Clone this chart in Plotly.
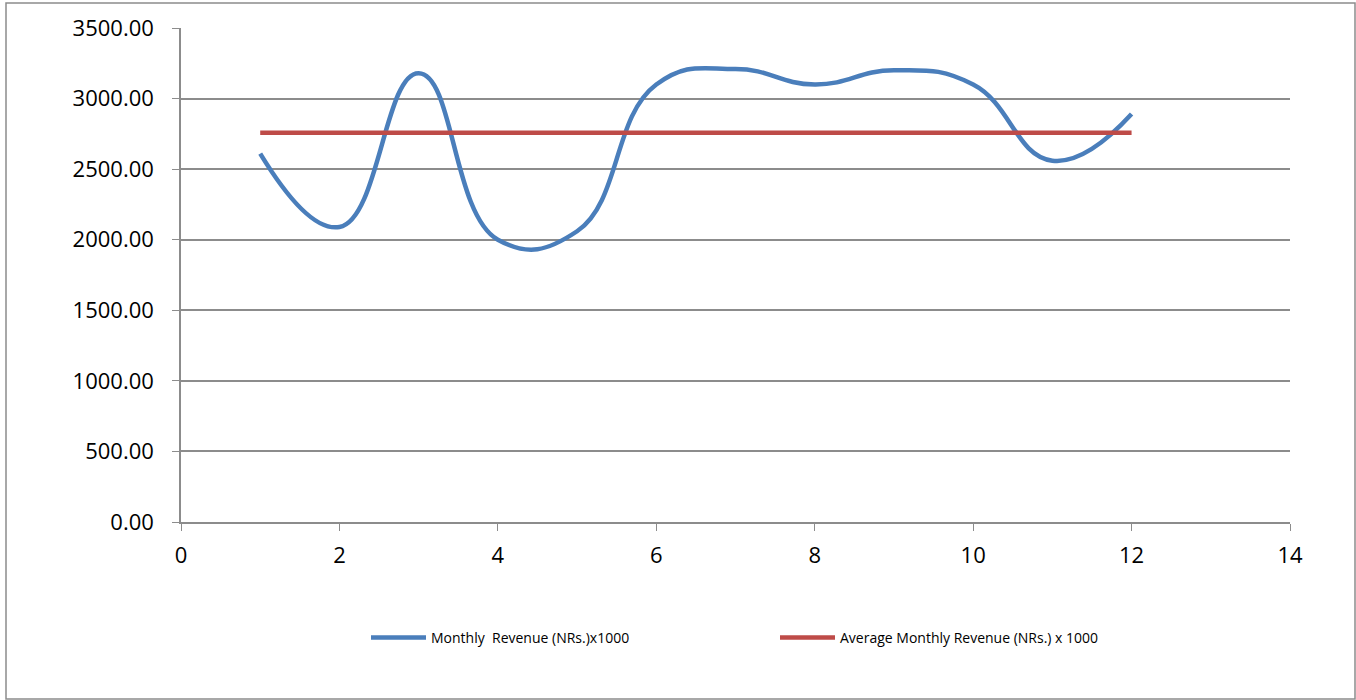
import plotly.graph_objects as go

# Monthly revenue data (NRs. x 1000)
months = [1, 2, 3, 4, 5, 6, 7, 8, 9, 10, 11, 12]
monthly_revenue = [2610, 2090, 3180, 2000, 2060, 3100, 3210, 3100, 3200, 3100, 2560, 2890]
average_value = sum(monthly_revenue) / len(monthly_revenue)
average_revenue = [average_value] * len(months)

y_ticks = [0, 500, 1000, 1500, 2000, 2500, 3000, 3500]
x_ticks = [0, 2, 4, 6, 8, 10, 12, 14]

W, H = 1356, 700
ML, MR, MT, MB = 181, 66, 28, 178
pw, ph = W - ML - MR, H - MT - MB

fig = go.Figure()
fig.add_trace(go.Scatter(
    x=months, y=monthly_revenue, mode="lines",
    name="Monthly  Revenue (NRs.)x1000",
    line=dict(color="#4A7EBB", width=4.5, shape="spline", smoothing=1.3),
))
fig.add_trace(go.Scatter(
    x=months, y=average_revenue, mode="lines",
    name="Average Monthly Revenue (NRs.) x 1000",
    line=dict(color="#BE4B48", width=4.5),
))

grid = "#8C8C8C"
fig.update_layout(
    width=W, height=H,
    margin=dict(l=ML, r=MR, t=MT, b=MB),
    paper_bgcolor="white", plot_bgcolor="white",
    font=dict(family="Open Sans, sans-serif", color="black"),
    xaxis=dict(
        range=[0, 14], tickvals=x_ticks, ticktext=[str(v) for v in x_ticks],
        showgrid=False, zeroline=False,
        showline=True, linecolor=grid, linewidth=1.5,
        ticks="outside", ticklen=7, tickcolor=grid, tickwidth=1,
        tickfont=dict(size=22), ticklabelstandoff=6,
    ),
    yaxis=dict(
        range=[0, 3500], tickvals=y_ticks, ticktext=[f"{v:.2f}" for v in y_ticks],
        showgrid=True, gridcolor=grid, gridwidth=1.5, zeroline=False,
        showline=True, linecolor=grid, linewidth=1.5,
        ticks="outside", ticklen=7, tickcolor=grid, tickwidth=1,
        tickfont=dict(size=22), ticklabelstandoff=14,
    ),
    legend=dict(
        orientation="h", x=(371 - ML - 5) / pw, xanchor="left",
        y=-(638 - MT - ph) / ph, yanchor="middle",
        font=dict(size=14, family="Open Sans, sans-serif"),
        itemwidth=55,
        entrywidth=339, entrywidthmode="pixels",
        bgcolor="rgba(0,0,0,0)",
    ),
    showlegend=True,
)

# Outer chart frame
fig.add_shape(
    type="rect", xref="paper", yref="paper",
    x0=(6 - ML) / pw, x1=(1355 - ML) / pw,
    y0=-(699 - MT - ph) / ph, y1=(MT + ph - 3) / ph,
    line=dict(color="#8C8C8C", width=1.5), fillcolor="rgba(0,0,0,0)",
    layer="below",
)

fig.write_html("out.html")
